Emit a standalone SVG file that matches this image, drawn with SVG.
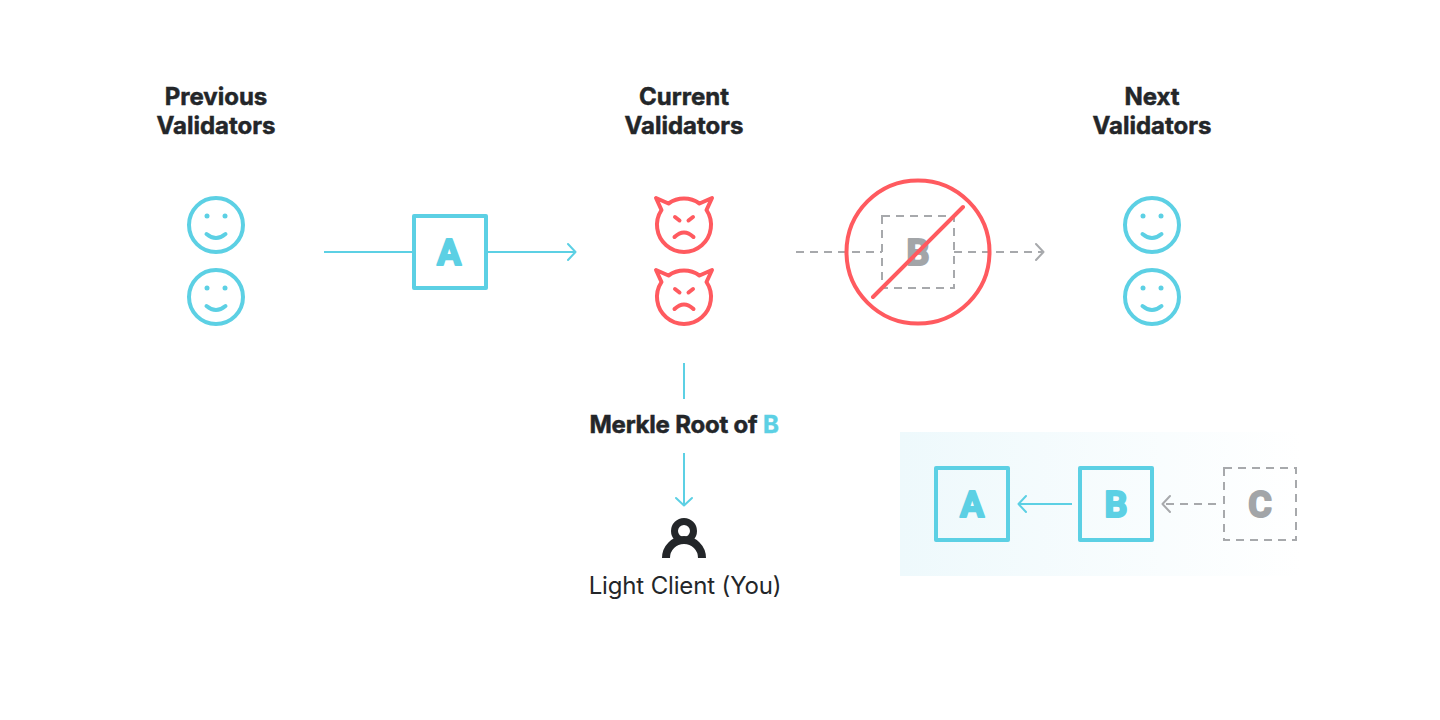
<svg xmlns="http://www.w3.org/2000/svg" width="1440" height="720" viewBox="0 0 1440 720">
<style>
.t{font-family:"Inter","Liberation Sans",sans-serif;font-weight:700;font-size:24px;fill:#232629;stroke:#232629;stroke-width:.5;text-anchor:middle}
.r{font-family:"Inter","Liberation Sans",sans-serif;font-weight:400;font-size:24px;fill:#232629;text-anchor:middle;letter-spacing:-.15px}
.l{font-family:"Roboto","Liberation Sans",sans-serif;font-weight:700;font-size:36px;text-anchor:middle;stroke-width:2;stroke-linejoin:round}
.cb{fill:#5CD0E4;stroke:#5CD0E4}.gr{fill:#A2A5A8;stroke:#A2A5A8}
.box{fill:none;stroke:#5CD0E4;stroke-width:4;stroke-linejoin:round}
.dbox{fill:none;stroke:#A7A9AC;stroke-width:2;stroke-dasharray:8 6}
.ln{fill:none;stroke:#5CD0E4;stroke-width:2}
.dl{fill:none;stroke:#A7A9AC;stroke-width:2;stroke-dasharray:8 6}
.hd{fill:none;stroke-width:2;stroke-linecap:round;stroke-linejoin:round}
.face{fill:none;stroke:#5CD0E4;stroke-width:4;stroke-linecap:round}
.evil{fill:none;stroke:#FF5A5F;stroke-width:4;stroke-linecap:round;stroke-linejoin:round}
</style>
<defs>
<linearGradient id="bg" x1="0" x2="1" y1="0" y2="0"><stop offset="0" stop-color="#EEF9FC"/><stop offset="1" stop-color="#FFFFFF"/></linearGradient>
<g id="smile"><circle cx="0" cy="0" r="27" class="face"/><circle cx="-9" cy="-9" r="2.5" fill="#5CD0E4"/><circle cx="9" cy="-9" r="2.5" fill="#5CD0E4"/><path d="M-9.500 9Q0 17 9.500 9" class="face"/></g>
<g id="devil"><path d="M-22.500-15L-28-27L-15.500-21.500A27 27 0 0 1 15.500-21.500L28-27L22.500-15A27 27 0 1 1-22.500-15Z" class="evil"/><path d="M-9-8L-4.500-4.500M9-8L4.500-4.500M-9.500 12Q0 3 9.500 12" class="evil"/></g>
</defs>
<rect width="1440" height="720" fill="#FFFFFF"/>
<rect x="900" y="432" width="402" height="144" fill="url(#bg)"/>
<g id="connectors">
<path class="ln" d="M324 252H414M486 252H575"/><path class="ln hd" d="M568 244L575.500 252L568 260"/>
<path class="dl" d="M796 252H882"/><path class="dl" d="M954 252H1042"/><path class="hd" stroke="#A7A9AC" d="M1036 244L1043.500 252L1036 260"/>
<path class="ln" d="M684 363V399M684 453V506"/><path class="ln hd" d="M676 498L684 505.500L692 498"/>
<path class="ln" d="M1072 504H1019"/><path class="ln hd" d="M1026 496L1018.500 504L1026 512"/>
<path class="dl" d="M1216 504H1164"/><path class="hd" stroke="#A7A9AC" d="M1170 496L1162.500 504L1170 512"/>
</g>
<g id="prev"><text class="t" x="216" y="105">Previous</text><text class="t" x="216" y="134">Validators</text><use href="#smile" x="216" y="225"/><use href="#smile" x="216" y="297"/></g>
<g id="curr"><text class="t" x="684" y="105">Current</text><text class="t" x="684" y="134">Validators</text><use href="#devil" x="684" y="225"/><use href="#devil" x="684" y="297"/></g>
<g id="next"><text class="t" x="1152" y="105">Next</text><text class="t" x="1152" y="134">Validators</text><use href="#smile" x="1152" y="225"/><use href="#smile" x="1152" y="297"/></g>
<g id="block-a"><rect class="box" x="414" y="216" width="72" height="72"/><text class="l cb" x="449" y="264.500">A</text></g>
<g id="block-b-rejected"><rect class="dbox" x="882" y="216" width="72" height="72"/><text class="l gr" x="918" y="265">B</text><circle cx="918" cy="252" r="71.500" fill="none" stroke="#FF5A5F" stroke-width="4"/><path d="M963 207L873 297" stroke="#FF5A5F" stroke-width="4" stroke-linecap="round"/></g>
<g id="merkle"><text class="t" x="684" y="433" style="letter-spacing:-.2px">Merkle Root of <tspan fill="#5CD0E4" stroke="#5CD0E4">B</tspan></text></g>
<g id="client"><circle cx="684" cy="531" r="9.500" fill="none" stroke="#232629" stroke-width="7"/><path d="M666 558A18 18 0 0 1 702 558" fill="none" stroke="#232629" stroke-width="8"/><text class="r" x="685" y="594">Light Client (You)</text></g>
<g id="chain-a"><rect class="box" x="936" y="468" width="72" height="72"/><text class="l cb" x="972" y="517">A</text></g>
<g id="chain-b"><rect class="box" x="1080" y="468" width="72" height="72"/><text class="l cb" x="1116" y="517">B</text></g>
<g id="chain-c"><rect class="dbox" x="1224" y="468" width="72" height="72"/><text class="l gr" x="1260" y="517">C</text></g>
</svg>
